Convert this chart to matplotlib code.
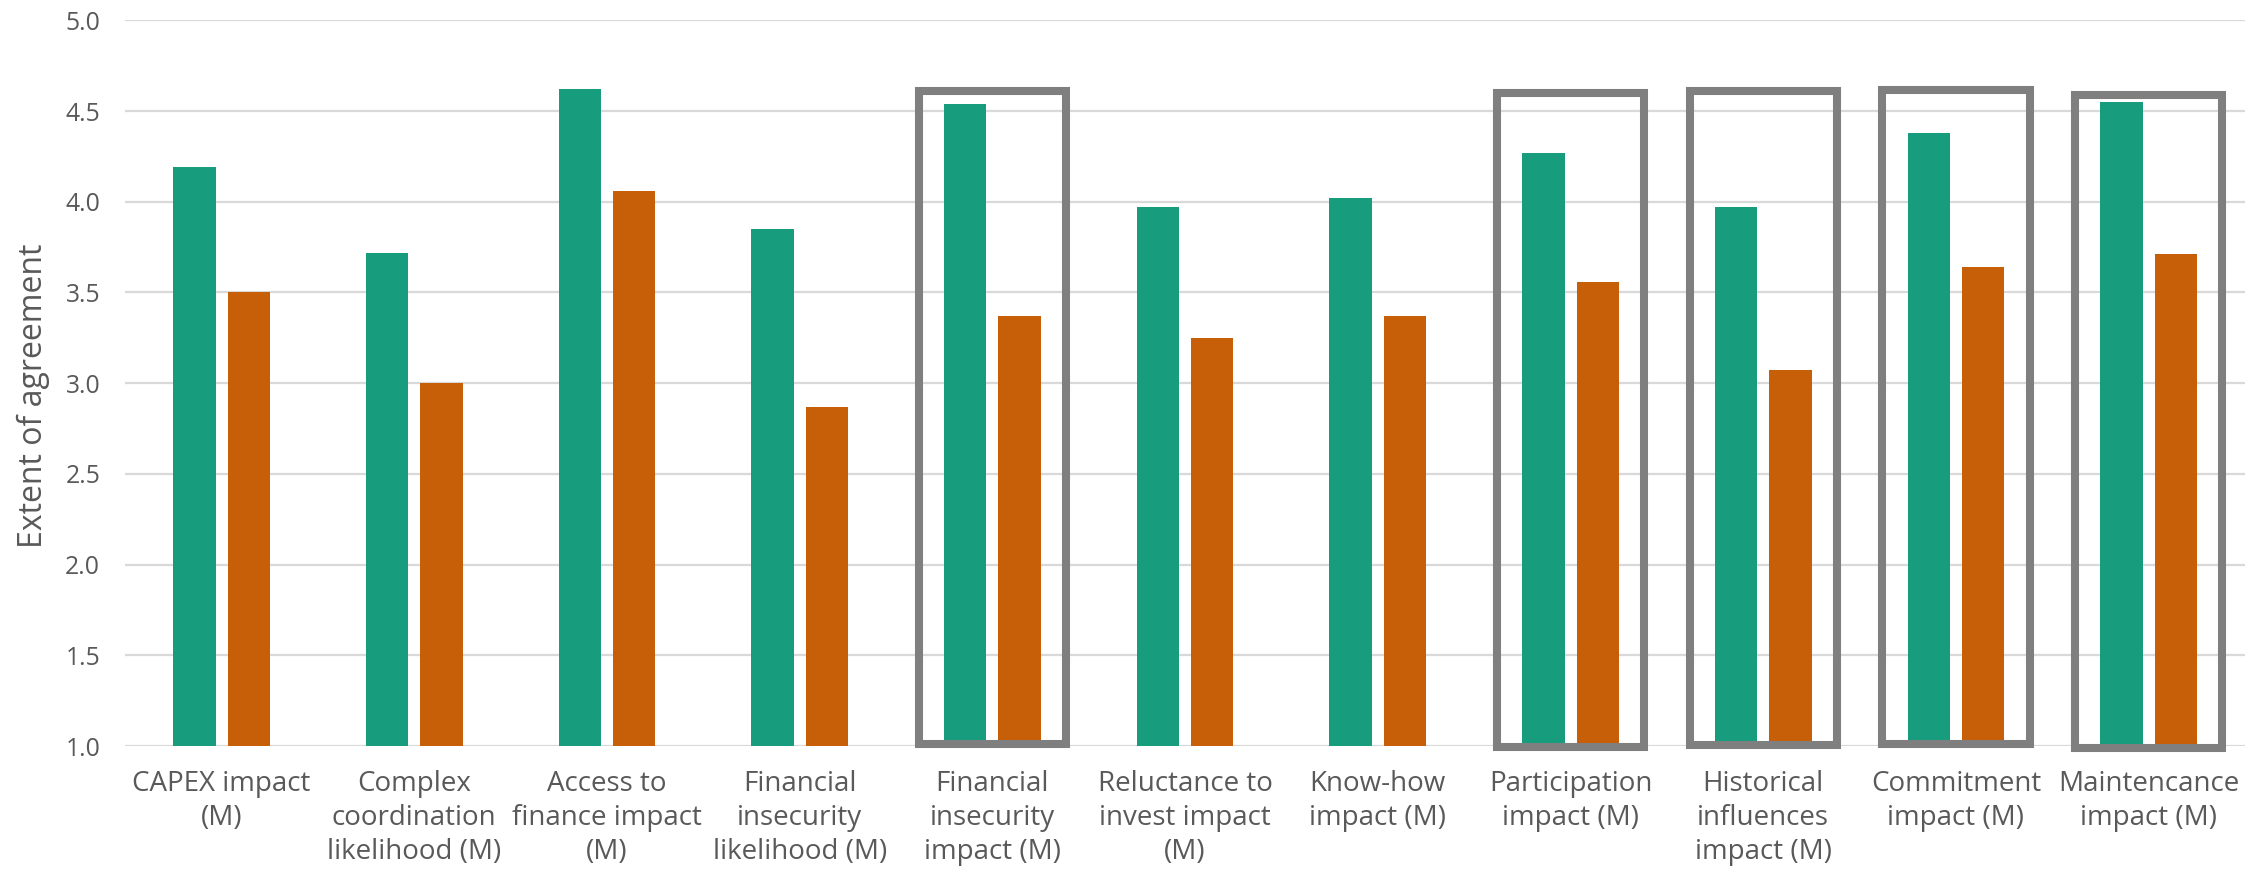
import matplotlib
matplotlib.use("Agg")
import matplotlib.pyplot as plt
from matplotlib.patches import Rectangle
import numpy as np

plt.rcParams['font.family'] = ['Open Sans', 'DejaVu Sans']

categories = [
    "CAPEX impact\n(M)",
    "Complex\ncoordination\nlikelihood (M)",
    "Access to\nfinance impact\n(M)",
    "Financial\ninsecurity\nlikelihood (M)",
    "Financial\ninsecurity\nimpact (M)",
    "Reluctance to\ninvest impact\n(M)",
    "Know-how\nimpact (M)",
    "Participation\nimpact (M)",
    "Historical\ninfluences\nimpact (M)",
    "Commitment\nimpact (M)",
    "Maintencance\nimpact (M)",
]
series_green = [4.19, 3.72, 4.62, 3.85, 4.54, 3.97, 4.02, 4.27, 3.97, 4.38, 4.55]
series_orange = [3.50, 3.00, 4.06, 2.87, 3.37, 3.25, 3.37, 3.56, 3.07, 3.64, 3.71]
yticks = [1.0, 1.5, 2.0, 2.5, 3.0, 3.5, 4.0, 4.5, 5.0]
ylabel = "Extent of agreement"

# highlighted groups (boxes)
box_groups = [4, 7, 8, 9, 10]
box_tops = [4.61, 4.60, 4.61, 4.615, 4.59]
box_bottoms = [1.01, 0.995, 1.005, 1.01, 0.99]

GREEN = "#179C7D"
ORANGE = "#C75F09"
TEXT = "#595959"
GRID = "#D9D9D9"
BOX = "#7F7F7F"

fig = plt.figure(figsize=(22.47, 8.69), dpi=100)
ax = fig.add_axes([0.05574, 0.14154, 0.94337, 0.8351])

x = np.arange(len(categories))
bw = 0.22
off = 0.141
ax.bar(x - off, np.array(series_green) - 1.0, bw, bottom=1.0, color=GREEN, zorder=3)
ax.bar(x + off, np.array(series_orange) - 1.0, bw, bottom=1.0, color=ORANGE, zorder=3)

half = 0.382
for g, t, b in zip(box_groups, box_tops, box_bottoms):
    r = Rectangle((g - half, b), 2 * half, t - b, fill=False, edgecolor=BOX,
                  linewidth=5.8, zorder=4, clip_on=False, joinstyle='miter')
    ax.add_patch(r)

ax.set_xlim(-0.5, len(categories) - 0.5)
ax.set_ylim(1.0, 5.0)
ax.set_yticks(yticks)
ax.set_yticklabels([f"{v:.1f}" for v in yticks])
ax.set_xticks(x)
ax.set_xticklabels(categories, linespacing=1.3)

ax.yaxis.grid(True, color=GRID, linewidth=1.6, zorder=0)
ax.set_axisbelow(True)
for s in ax.spines.values():
    s.set_visible(False)
ax.tick_params(axis='both', length=0)
ax.tick_params(axis='y', labelsize=17.8, labelcolor=TEXT, pad=18)
ax.tick_params(axis='x', labelsize=20, labelcolor=TEXT, pad=17)

fig.text(33 / 2247, 1 - 396 / 869, ylabel, rotation=90, ha='center', va='center',
         fontsize=23, color=TEXT)

fig.savefig("out.png", dpi=100)
